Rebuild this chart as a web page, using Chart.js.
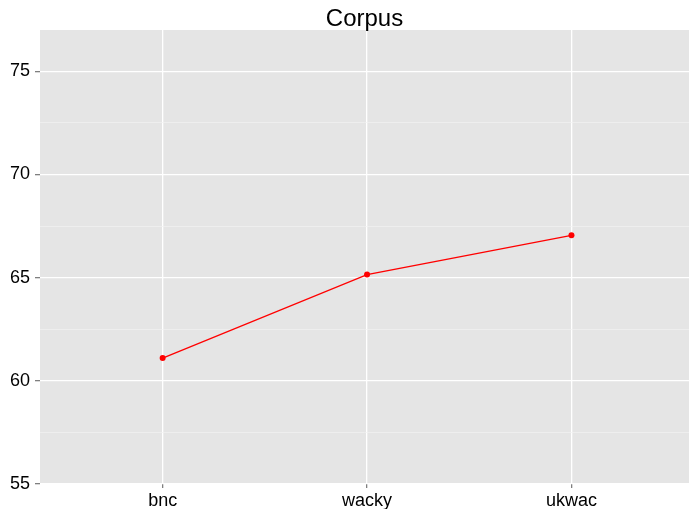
<!DOCTYPE html>
<html>
<head>
<meta charset="utf-8">
<script src="https://cdn.jsdelivr.net/npm/chart.js@4"></script>
<style>
  html, body { margin: 0; padding: 0; background: #fff; }
  #wrap { width: 693px; height: 509px; }
</style>
</head>
<body>
<div id="wrap"><canvas id="corpusChart" width="693" height="509"></canvas></div>
<script>
// chart data
const chartTitle = "Corpus";
const categories = ["bnc", "wacky", "ukwac"];
const scores = [61.1, 65.15, 67.05];
const yTicks = [55, 57.5, 60, 62.5, 65, 67.5, 70, 72.5, 75];

const FONT = "'Liberation Sans', Arial, Helvetica, sans-serif";

// ggplot-like grey panel
const panelBackground = {
    id: "panelBackground",
    beforeDraw(chart) {
        const a = chart.chartArea;
        const ctx = chart.ctx;
        ctx.save();
        ctx.fillStyle = "#e5e5e5";
        ctx.fillRect(a.left, a.top, a.right - a.left, a.bottom - a.top);
        ctx.restore();
    }
};

// title centred over the panel, not the canvas
const panelTitle = {
    id: "panelTitle",
    afterDraw(chart) {
        const a = chart.chartArea;
        const ctx = chart.ctx;
        ctx.save();
        ctx.fillStyle = "#000";
        ctx.font = "24px " + FONT;
        ctx.textAlign = "center";
        ctx.textBaseline = "alphabetic";
        ctx.fillText(chartTitle, (a.left + a.right) / 2, 26);
        ctx.restore();
    }
};

const isMajor = v => Math.abs(v % 5) < 1e-6;

new Chart(document.getElementById("corpusChart"), {
    type: "line",
    data: {
        datasets: [{
            data: scores.map((v, i) => ({ x: i + 1, y: v })),
            borderColor: "#ff0000",
            backgroundColor: "#ff0000",
            borderWidth: 1.3,
            pointRadius: 3,
            pointBorderWidth: 0,
            tension: 0
        }]
    },
    options: {
        responsive: false,
        animation: false,
        layout: { padding: { top: 30, right: 1 } },
        plugins: {
            legend: { display: false },
            tooltip: { enabled: false },
            title: { display: false }
        },
        scales: {
            x: {
                type: "linear",
                min: 0.4,
                max: 3.575,
                afterBuildTicks: s => { s.ticks = categories.map((c, i) => ({ value: i + 1 })); },
                afterFit: s => { s.height = 25; },
                border: { display: false },
                grid: { color: "#ffffff", lineWidth: 1.3, tickColor: "#7f7f7f", tickLength: 4 },
                ticks: {
                    color: "#000",
                    font: { family: FONT, size: 18 },
                    padding: 2,
                    maxRotation: 0,
                    callback: v => categories[Math.round(v) - 1]
                }
            },
            y: {
                min: 55,
                max: 77,
                afterBuildTicks: s => { s.ticks = yTicks.map(v => ({ value: v })); },
                afterFit: s => { s.width = 40; },
                border: { display: false },
                grid: {
                    color: c => isMajor(c.tick.value) ? "#ffffff" : "#f2f2f2",
                    lineWidth: c => isMajor(c.tick.value) ? 1.3 : 0.7,
                    tickColor: c => isMajor(c.tick.value) ? "#7f7f7f" : "rgba(0,0,0,0)",
                    tickLength: 5
                },
                ticks: {
                    color: "#000",
                    font: { family: FONT, size: 18 },
                    padding: 5,
                    callback: v => isMajor(v) ? String(v) : ""
                }
            }
        }
    },
    plugins: [panelBackground, panelTitle]
});
</script>
</body>
</html>
